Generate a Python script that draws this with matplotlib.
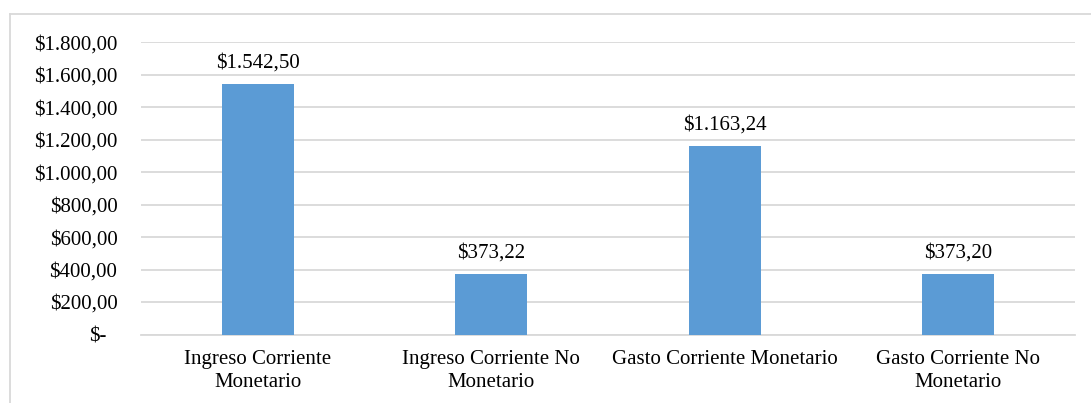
import matplotlib
matplotlib.use("Agg")
import matplotlib.pyplot as plt
from matplotlib.lines import Line2D
import matplotlib.transforms as mtransforms

categories = ["Ingreso Corriente\nMonetario", "Ingreso Corriente No\nMonetario",
              "Gasto Corriente Monetario", "Gasto Corriente No\nMonetario"]
values = [1542.50, 373.22, 1163.24, 373.20]
value_labels = ["$1.542,50", "$373,22", "$1.163,24", "$373,20"]
y_ticks = [0, 200, 400, 600, 800, 1000, 1200, 1400, 1600, 1800]
y_tick_labels = ["$-", "$200,00", "$400,00", "$600,00", "$800,00", "$1.000,00",
                 "$1.200,00", "$1.400,00", "$1.600,00", "$1.800,00"]

plt.rcParams["font.family"] = ["Liberation Serif", "DejaVu Serif"]

W, H = 1091, 403
fig = plt.figure(figsize=(W / 100, H / 100), dpi=100)
ax = fig.add_axes([141 / W, (H - 334.5) / H, (1075 - 141) / W, (334.5 - 42.3) / H])

grid_col = "#D9D9D9"
x = range(len(categories))
bars = ax.bar(x, values, width=0.31, color="#5B9BD5", zorder=3)

for b, lab in zip(bars, value_labels):
    ax.annotate(lab, (b.get_x() + b.get_width() / 2, b.get_height()),
                xytext=(0, 8), textcoords="offset points",
                ha="center", va="bottom", fontsize=15, color="#000000")

ax.set_xlim(-0.5, len(categories) - 0.5)
ax.set_ylim(0, 1800)
ax.set_yticks(y_ticks)
ax.set_yticklabels(y_tick_labels, fontsize=15)
ax.set_xticks(list(x))
ax.set_xticklabels(categories, fontsize=15, linespacing=1.3)
ax.tick_params(axis="y", length=0, pad=17)
ax.tick_params(axis="x", length=0, pad=11)

# "$-" sits a little left, as in accounting format
lbl0 = ax.get_yticklabels()[0]
lbl0.set_transform(lbl0.get_transform() + mtransforms.ScaledTranslation(-11 / 100, 0, fig.dpi_scale_trans))

ax.yaxis.grid(True, color=grid_col, linewidth=1.3, zorder=0)
for s in ["top", "right", "left"]:
    ax.spines[s].set_visible(False)
ax.spines["bottom"].set_color(grid_col)
ax.spines["bottom"].set_linewidth(1.3)

# chart area frame
fig.add_artist(Line2D([9.5 / W, 9.5 / W], [0, (H - 13.5) / H], color=grid_col, linewidth=1.3,
                      transform=fig.transFigure))
fig.add_artist(Line2D([9.5 / W, 1], [(H - 13.5) / H, (H - 13.5) / H], color=grid_col, linewidth=1.3,
                      transform=fig.transFigure))

fig.savefig("out.png", dpi=100, facecolor="white")
